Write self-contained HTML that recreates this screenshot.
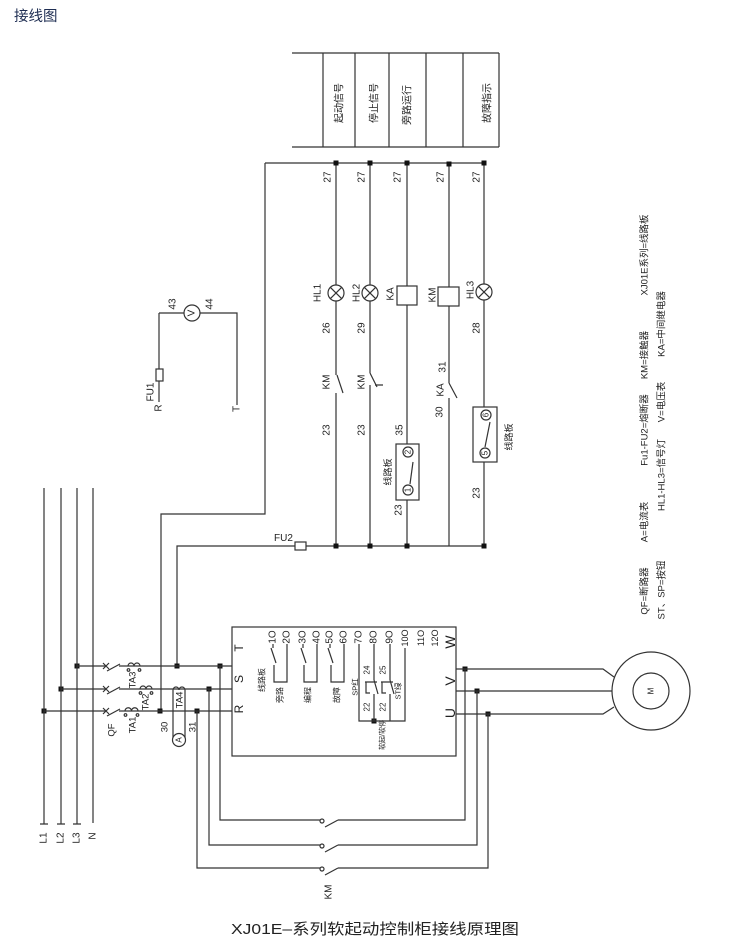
<!DOCTYPE html>
<html><head><meta charset="utf-8"><style>
html,body{margin:0;padding:0;background:#fff;}
svg{display:block;}
.l{stroke:#333;stroke-width:1.2;fill:none;}
.t{fill:#222;}
</style></head><body>
<svg width="750" height="949" viewBox="0 0 750 949" xmlns="http://www.w3.org/2000/svg" font-family="'Liberation Sans','Noto Sans CJK SC',sans-serif">
<rect width="750" height="949" fill="#fff"/>
<text x="14" y="21" font-size="14.5" fill="#1e2d52">接线图</text>

<!-- top signal box -->
<path class="l" d="M292,53H499 M292,147H499 M323,53V147 M355,53V147 M389,53V147 M426,53V147 M463,53V147 M499,53V147"/>
<g font-size="10" class="t" text-anchor="middle" dominant-baseline="central">
<text transform="translate(340,103) rotate(-90)">起动信号</text>
<text transform="translate(375,103) rotate(-90)">停止信号</text>
<text transform="translate(408,105) rotate(-90)">旁路运行</text>
<text transform="translate(488,103) rotate(-90)">故障指示</text>
</g>

<!-- buses -->
<path class="l" d="M265,163H484 M265,163V514H161V711 M177,666V546H295 M306,546H484"/>
<rect x="295" y="542" width="11" height="8" class="l"/>

<!-- column A -->
<path class="l" d="M336,163V285 M336,301V375 M337,375L343,393 M336,393V546"/>
<!-- column B -->
<path class="l" d="M370,163V285 M370,301V373 M370,373L377,387 M375,385H383 M370,385V546"/>
<!-- column C -->
<path class="l" d="M407,163V286 M407,305V444 M407,500V546"/>
<rect x="397" y="286" width="20" height="19" class="l"/>
<rect x="396" y="444" width="23" height="56" class="l"/>
<circle cx="408" cy="452" r="5" class="l"/>
<circle cx="408" cy="490" r="5" class="l"/>
<path class="l" d="M410,484L413,462"/>
<!-- column D -->
<path class="l" d="M449,163V287 M449,306V383 M449,383L457,398 M449,398V546"/>
<rect x="438" y="287" width="21" height="19" class="l"/>
<!-- column E -->
<path class="l" d="M484,163V284 M484,300V407 M484,462V546"/>
<rect x="473" y="407" width="24" height="55" class="l"/>
<circle cx="486" cy="415" r="5" class="l"/>
<circle cx="485" cy="453" r="5" class="l"/>
<path class="l" d="M485,447L490,422"/>

<!-- lamps -->
<g class="l">
<circle cx="336" cy="293" r="8"/><path d="M330.3,287.3L341.7,298.7 M341.7,287.3L330.3,298.7"/>
<circle cx="370" cy="293" r="8"/><path d="M364.3,287.3L375.7,298.7 M375.7,287.3L364.3,298.7"/>
<circle cx="484" cy="292" r="8"/><path d="M478.3,286.3L489.7,297.7 M489.7,286.3L478.3,297.7"/>
</g>

<!-- junctions -->
<g fill="#111">
<rect x="333.5" y="160.5" width="5" height="5"/><rect x="367.5" y="160.5" width="5" height="5"/>
<rect x="404.5" y="160.5" width="5" height="5"/><rect x="446.5" y="161.5" width="5" height="5"/>
<rect x="481.5" y="160.5" width="5" height="5"/>
<rect x="333.5" y="543.5" width="5" height="5"/><rect x="367.5" y="543.5" width="5" height="5"/>
<rect x="404.5" y="543.5" width="5" height="5"/><rect x="481.5" y="543.5" width="5" height="5"/>
<rect x="74.5" y="663.5" width="5" height="5"/><rect x="58.5" y="686.5" width="5" height="5"/>
<rect x="41.5" y="708.5" width="5" height="5"/><rect x="174.5" y="663.5" width="5" height="5"/>
<rect x="217.5" y="663.5" width="5" height="5"/><rect x="206.5" y="686.5" width="5" height="5"/>
<rect x="157.5" y="708.5" width="5" height="5"/><rect x="194.5" y="708.5" width="5" height="5"/>
<rect x="462.5" y="666.5" width="5" height="5"/><rect x="474.5" y="688.5" width="5" height="5"/>
<rect x="485.5" y="711.5" width="5" height="5"/>
<rect x="371.5" y="718.5" width="5" height="5"/>
</g>

<!-- middle labels -->
<g font-size="10" class="t" text-anchor="middle" dominant-baseline="central">
<text transform="translate(328,177) rotate(-90)">27</text>
<text transform="translate(362,177) rotate(-90)">27</text>
<text transform="translate(398,177) rotate(-90)">27</text>
<text transform="translate(441,177) rotate(-90)">27</text>
<text transform="translate(477,177) rotate(-90)">27</text>
<text transform="translate(318,293) rotate(-90)">HL1</text>
<text transform="translate(357,293) rotate(-90)">HL2</text>
<text transform="translate(391,294) rotate(-90)">KA</text>
<text transform="translate(433,295) rotate(-90)">KM</text>
<text transform="translate(471,290) rotate(-90)">HL3</text>
<text transform="translate(327,328) rotate(-90)">26</text>
<text transform="translate(362,328) rotate(-90)">29</text>
<text transform="translate(477,328) rotate(-90)">28</text>
<text transform="translate(327,382) rotate(-90)">KM</text>
<text transform="translate(362,382) rotate(-90)">KM</text>
<text transform="translate(443,367) rotate(-90)">31</text>
<text transform="translate(441,390) rotate(-90)">KA</text>
<text transform="translate(440,412) rotate(-90)">30</text>
<text transform="translate(327,430) rotate(-90)">23</text>
<text transform="translate(362,430) rotate(-90)">23</text>
<text transform="translate(400,430) rotate(-90)">35</text>
<text transform="translate(399,510) rotate(-90)">23</text>
<text transform="translate(477,493) rotate(-90)">23</text>
</g>
<g font-size="9" class="t" text-anchor="middle" dominant-baseline="central">
<text transform="translate(388,472) rotate(-90)">线路板</text>
<text transform="translate(509,437) rotate(-90)">线路板</text>
</g>
<g font-size="8" class="t" text-anchor="middle" dominant-baseline="central">
<text transform="translate(408,452) rotate(-90)">2</text>
<text transform="translate(408,490) rotate(-90)">1</text>
<text transform="translate(486,415) rotate(-90)">6</text>
<text transform="translate(485,453) rotate(-90)">5</text>
</g>
<text x="274" y="541" font-size="10" class="t">FU2</text>

<!-- FU1 / voltmeter -->
<path class="l" d="M159,313V369 M159,381V402 M159,313H184 M200,313H237V405"/>
<rect x="156" y="369" width="7" height="12" class="l"/>
<circle cx="192" cy="313" r="8" class="l"/>
<g font-size="10" class="t" text-anchor="middle" dominant-baseline="central">
<text transform="translate(192,313) rotate(-90)">V</text>
<text transform="translate(173,304) rotate(-90)">43</text>
<text transform="translate(210,304) rotate(-90)">44</text>
<text transform="translate(151,392) rotate(-90)">FU1</text>
<text transform="translate(159,408) rotate(-90)">R</text>
<text transform="translate(237,409) rotate(-90)">T</text>
</g>

<!-- legend -->
<g font-size="9.5" class="t" text-anchor="middle" dominant-baseline="central">
<text transform="translate(645,255) rotate(-90)">XJ01E系列=线路板</text>
<text transform="translate(645,355) rotate(-90)">KM=接触器</text>
<text transform="translate(645,430) rotate(-90)">Fu1-FU2=熔断器</text>
<text transform="translate(645,522) rotate(-90)">A=电流表</text>
<text transform="translate(645,591) rotate(-90)">QF=断路器</text>
<text transform="translate(662,324) rotate(-90)">KA=中间继电器</text>
<text transform="translate(662,402) rotate(-90)">V=电压表</text>
<text transform="translate(662,475) rotate(-90)">HL1-HL3=信号灯</text>
<text transform="translate(662,590) rotate(-90)">ST、SP=按钮</text>
</g>

<!-- L lines -->
<path class="l" d="M44,488V824 M61,488V824 M77,488V824 M93,488V823 M40,824H48 M57,824H65 M73,824H81"/>
<g font-size="10" class="t" text-anchor="middle" dominant-baseline="central">
<text transform="translate(44,838) rotate(-90)">L1</text>
<text transform="translate(61,838) rotate(-90)">L2</text>
<text transform="translate(77,838) rotate(-90)">L3</text>
<text transform="translate(93,836) rotate(-90)">N</text>
</g>

<!-- phase lines with QF -->
<path class="l" d="M77,666H106 M119,666H232 M61,689H106 M119,689H232 M44,711H106 M119,711H232"/>
<path class="l" stroke-width="1" d="M103,663L109,669 M109,663L103,669 M103,686L109,692 M109,686L103,692 M103,708L109,714 M109,708L103,714"/>
<path class="l" d="M107,671L120,664 M107,694L120,687 M107,716L120,709"/>
<!-- TA coils -->
<path class="l" d="M128,666a3,3 0 0 1 6,0a3,3 0 0 1 6,0 M140,689a3,3 0 0 1 6,0a3,3 0 0 1 6,0 M125,711a3.2,3.2 0 0 1 6.5,0a3.2,3.2 0 0 1 6.5,0"/>
<g class="l" stroke-width="0.9">
<circle cx="128.5" cy="670" r="1.3"/><circle cx="139.5" cy="670" r="1.3"/>
<circle cx="140.5" cy="693" r="1.3"/><circle cx="151.5" cy="693" r="1.3"/>
<circle cx="125.5" cy="715" r="1.3"/><circle cx="137.5" cy="715" r="1.3"/>
</g>
<!-- TA4 and ammeter -->
<path class="l" d="M173,740V690a3,3 0 0 1 6,0a3,3 0 0 1 6,0V740"/>
<circle cx="179" cy="740" r="6.5" fill="#fff" stroke="#333" stroke-width="1.2"/>
<g font-size="9.5" class="t" text-anchor="middle" dominant-baseline="central">
<text transform="translate(133,680) rotate(-90)">TA3</text>
<text transform="translate(146,702) rotate(-90)">TA2</text>
<text transform="translate(133,725) rotate(-90)">TA1</text>
<text transform="translate(112,730) rotate(-90)">QF</text>
<text transform="translate(180,700) rotate(-90)">TA4</text>
<text transform="translate(179,740) rotate(-90)" font-size="8">A</text>
<text transform="translate(165,727) rotate(-90)">30</text>
<text transform="translate(193,727) rotate(-90)">31</text>
</g>

<!-- bottom loops with KM -->
<path class="l" d="M220,666V820H320 M338,820H465V669 M209,689V845H320 M338,845H477V691 M197,711V868H320 M338,868H488V714"/>
<g class="l" stroke-width="1">
<circle cx="322" cy="821" r="2"/><circle cx="322" cy="846" r="2"/><circle cx="322" cy="869" r="2"/>
</g>
<path class="l" d="M325,827L338,820 M325,852L338,845 M325,875L338,868"/>
<text transform="translate(329,892) rotate(-90)" font-size="10" class="t" text-anchor="middle" dominant-baseline="central">KM</text>

<!-- motor -->
<path class="l" d="M456,669H603L614,677 M456,691H612 M456,714H603L614,707"/>
<circle cx="651" cy="691" r="39" class="l"/>
<circle cx="651" cy="691" r="18" class="l"/>
<text transform="translate(651,691) rotate(-90)" font-size="8" class="t" text-anchor="middle" dominant-baseline="central">M</text>

<!-- controller box -->
<rect x="232" y="627" width="224" height="129" class="l"/>
<g font-size="12" class="t" text-anchor="middle" dominant-baseline="central">
<text transform="translate(239,648) rotate(-90)">T</text>
<text transform="translate(239,679) rotate(-90)">S</text>
<text transform="translate(239,709) rotate(-90)">R</text>
</g>
<g font-size="14" class="t" text-anchor="middle" dominant-baseline="central">
<text transform="translate(450,642) rotate(-90)">W</text>
<text transform="translate(450,681) rotate(-90)">V</text>
<text transform="translate(450,713) rotate(-90)">U</text>
</g>
<g font-size="10" class="t" text-anchor="middle" dominant-baseline="central">
<text transform="translate(273,637) rotate(-90)">1O</text>
<text transform="translate(287,637) rotate(-90)">2O</text>
<text transform="translate(303,637) rotate(-90)">3O</text>
<text transform="translate(317,637) rotate(-90)">4O</text>
<text transform="translate(330,637) rotate(-90)">5O</text>
<text transform="translate(344,637) rotate(-90)">6O</text>
<text transform="translate(359,637) rotate(-90)">7O</text>
<text transform="translate(374,637) rotate(-90)">8O</text>
<text transform="translate(390,637) rotate(-90)">9O</text>
<text transform="translate(405,638) rotate(-90)" font-size="9">10O</text>
<text transform="translate(421,638) rotate(-90)" font-size="9">11O</text>
<text transform="translate(435,638) rotate(-90)" font-size="9">12O</text>
</g>
<!-- internal contacts -->
<path class="l" d="M273,644V648 M271,648L276,663 M274,665V682H287V644
M303,644V648 M301,648L306,663 M304,665V682H317V644
M330,644V648 M328,648L333,663 M331,665V682H344V644
M359,644V721H405V648 M374,644V680 M374,694V721 M390,644V680 M390,694V721"/>
<path class="l" stroke-width="1" d="M365,682H377 M366,682V693H370 M374,680L378,694 M381,682H393 M382,682V693H386 M390,680L394,694"/>
<g font-size="8" class="t" text-anchor="middle" dominant-baseline="central">
<text transform="translate(262,680) rotate(-90)">线路板</text>
<text transform="translate(280,695) rotate(-90)">旁路</text>
<text transform="translate(308,695) rotate(-90)">编程</text>
<text transform="translate(337,695) rotate(-90)">故障</text>
<text transform="translate(367,670) rotate(-90)">24</text>
<text transform="translate(383,670) rotate(-90)">25</text>
<text transform="translate(367,707) rotate(-90)">22</text>
<text transform="translate(383,707) rotate(-90)">22</text>
<text transform="translate(355,687) rotate(-90)" font-size="7.5">SP红</text>
<text transform="translate(398,691) rotate(-90)" font-size="7.5">ST绿</text>
<text transform="translate(383,735) rotate(-90)" font-size="7">软起/软停</text>
</g>

<!-- bottom title -->
<text x="231" y="934" font-size="15" class="t" textLength="288" lengthAdjust="spacingAndGlyphs">XJ01E–系列软起动控制柜接线原理图</text>
</svg>
</body></html>
